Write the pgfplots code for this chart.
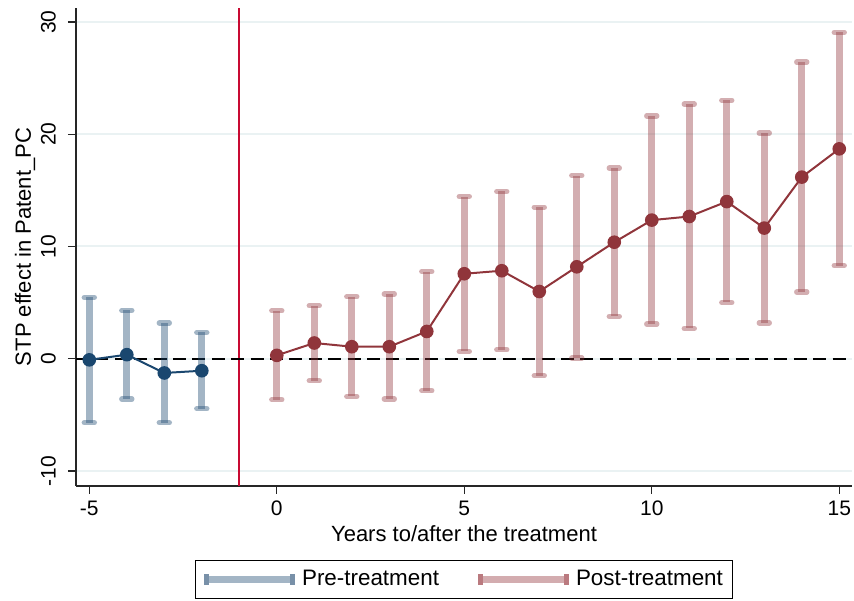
\documentclass[border=0pt]{standalone}
\usepackage{fontspec}
\setmainfont{Liberation Sans}
\usepackage{pgfplots}
\usepackage{pgfplotstable}
\pgfplotsset{compat=1.18}
\definecolor{navyc}{RGB}{26,71,111}
\definecolor{maroonc}{RGB}{144,53,59}
\definecolor{prelight}{RGB}{163,181,197}
\definecolor{postlight}{RGB}{211,172,175}
\definecolor{predark}{RGB}{120,144,168}
\definecolor{postdark}{RGB}{186,122,127}
\definecolor{gridc}{RGB}{234,242,243}
\definecolor{vline}{RGB}{200,10,50}

\pgfplotstableread{
x y lo hi
-5 -0.10 -5.70 5.46
-4 0.36 -3.60 4.30
-3 -1.27 -5.70 3.18
-2 -1.07 -4.45 2.34
}\pre
\pgfplotstableread{
x y lo hi
0 0.30 -3.65 4.27
1 1.40 -1.96 4.72
2 1.07 -3.36 5.52
3 1.07 -3.59 5.76
4 2.43 -2.85 7.77
5 7.57 0.65 14.45
6 7.84 0.80 14.90
7 5.99 -1.51 13.50
8 8.19 0.06 16.32
9 10.38 3.77 16.98
10 12.35 3.09 21.64
11 12.67 2.70 22.68
12 14.00 5.01 23.03
13 11.64 3.20 20.10
14 16.18 5.94 26.42
15 18.70 8.30 29.08
}\post

\begin{document}
\begin{tikzpicture}
\begin{axis}[
  scale only axis,
  width=388pt, height=239pt,
  xmin=-5.355, xmax=15.34,
  ymin=-11.34, ymax=31.25,
  axis x line*=bottom, axis y line*=left,
  axis line style={-, black!85, line width=0.7pt},
  xtick={-5,0,5,10,15},
  ytick={-10,0,10,20,30},
  tick align=outside,
  major tick length=4pt,
  tick style={black!85, line width=0.7pt},
  /pgf/number format/assume math mode=true,
  ticklabel style={font=\fontsize{10.5}{12}\selectfont},
  yticklabel style={rotate=90, anchor=south, yshift=2.5pt},
  ymajorgrids,
  grid style={gridc, line width=1pt},
  xlabel={Years to/after the treatment},
  ylabel={STP effect in Patent\_PC},
  xlabel shift=-2pt,
  ylabel shift=-4pt,
  label style={font=\fontsize{11}{13}\selectfont},
  legend columns=2,
  legend style={at={(axis description cs:0.5,0)}, anchor=north, yshift=-37pt,
    draw=black, line width=0.5pt, font=\fontsize{11.2}{13}\selectfont,
    /tikz/every even column/.append style={column sep=16pt},
    inner xsep=3pt, inner ysep=3pt},
  clip=false,
]
\coordinate (ll) at (rel axis cs:0,0);
\coordinate (ur) at (rel axis cs:1,1);
\addlegendimage{legend image code/.code={
  \draw[prelight, line width=3.5pt] (0pt,0pt) -- (45pt,0pt);
  \fill[predark] (0pt,-2.5pt) rectangle (2pt,2.5pt);
  \fill[predark] (43pt,-2.5pt) rectangle (45pt,2.5pt);}}
\addlegendentry{Pre-treatment}
\addlegendimage{legend image code/.code={
  \draw[postlight, line width=3.5pt] (0pt,0pt) -- (45pt,0pt);
  \fill[postdark] (0pt,-2.5pt) rectangle (2pt,2.5pt);
  \fill[postdark] (43pt,-2.5pt) rectangle (45pt,2.5pt);}}
\addlegendentry{Post-treatment}

\addplot[vline, line width=1pt, forget plot] coordinates {(-1,-11.34) (-1,31.25)};

\addplot[black, line width=1pt, dash pattern=on 6.5pt off 3.2pt, forget plot] coordinates {(-5.355,0) (15.34,0)};

\addplot[draw=none, forget plot,
  error bars/.cd, y dir=both, y explicit,
  error bar style={navyc, opacity=0.4, line width=3.6pt},
  error mark options={rotate=90, mark size=2.5pt, navyc, opacity=0.4, line width=2.7pt, line cap=round}]
  table[x=x, y=y, y error plus expr=\thisrow{hi}-\thisrow{y}, y error minus expr=\thisrow{y}-\thisrow{lo}] {\pre};
\addplot[draw=none, forget plot,
  error bars/.cd, y dir=both, y explicit,
  error bar style={maroonc, opacity=0.4, line width=3.6pt},
  error mark options={rotate=90, mark size=2.5pt, maroonc, opacity=0.4, line width=2.7pt, line cap=round}]
  table[x=x, y=y, y error plus expr=\thisrow{hi}-\thisrow{y}, y error minus expr=\thisrow{y}-\thisrow{lo}] {\post};

\addplot[navyc, line width=1pt, mark=*, mark size=2.9pt, mark options={fill=navyc, draw=navyc}, forget plot] table[x=x, y=y] {\pre};
\addplot[maroonc, line width=1pt, mark=*, mark size=2.9pt, mark options={fill=maroonc, draw=maroonc}, forget plot] table[x=x, y=y] {\post};
\end{axis}
\pgfresetboundingbox
\path[use as bounding box] ([xshift=-38pt,yshift=-57.5pt]ll) rectangle ([xshift=1pt,yshift=4pt]ur);
\end{tikzpicture}
\end{document}
